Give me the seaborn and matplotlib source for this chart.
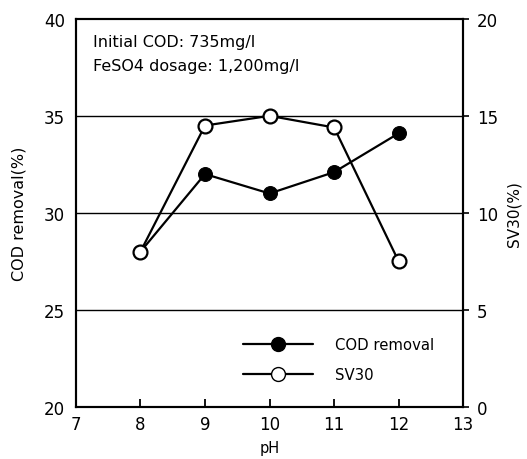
import matplotlib
matplotlib.use("Agg")
import matplotlib.pyplot as plt
from matplotlib.lines import Line2D
import seaborn as sns
import pandas as pd

# pH test points and measured results
ph = [8, 9, 10, 11, 12]
cod_removal = [28.0, 32.0, 31.0, 32.1, 34.1]   # %
sv30 = [8.0, 14.5, 15.0, 14.4, 7.5]             # %

x_ticks = [7, 8, 9, 10, 11, 12, 13]
left_ticks = [20, 25, 30, 35, 40]
right_ticks = [0, 5, 10, 15, 20]

sns.set_theme(style="white")
plt.rcParams["font.family"] = ["DejaVu Sans"]
plt.rcParams["text.color"] = "black"
plt.rcParams["axes.labelcolor"] = "black"
plt.rcParams["xtick.color"] = "black"
plt.rcParams["ytick.color"] = "black"

df = pd.DataFrame({"pH": ph, "COD removal": cod_removal, "SV30": sv30})

fig = plt.figure(figsize=(5.27, 4.6), dpi=100)
ax = fig.add_axes([0.144, 0.113, 0.735, 0.844])
ax2 = ax.twinx()

# horizontal reference lines at the inner ticks
for v in [25, 30, 35]:
    ax.axhline(v, color="black", lw=1.0, zorder=1)

sns.lineplot(data=df, x="pH", y="COD removal", ax=ax, color="black", lw=1.6,
             marker="o", markersize=10, markerfacecolor="black",
             markeredgecolor="black", zorder=3)
sns.lineplot(data=df, x="pH", y="SV30", ax=ax2, color="black", lw=1.6,
             marker="o", markersize=10, markerfacecolor="white",
             markeredgecolor="black", markeredgewidth=1.6, zorder=4)

ax.set_xlim(7, 13)
ax.set_ylim(20, 40)
ax2.set_ylim(0, 20)
ax.set_xticks(x_ticks)
ax.set_yticks(left_ticks)
ax2.set_yticks(right_ticks)

ax.set_xlabel("pH", fontsize=10.5, labelpad=5)
ax.set_ylabel("COD removal(%)", fontsize=11.5, labelpad=12)
ax2.set_ylabel("SV30(%)", fontsize=11, labelpad=6)

ax.tick_params(axis="x", direction="in", length=6, width=1.3, labelsize=12,
               pad=6, bottom=True)
ax.tick_params(axis="y", length=0, labelsize=12, pad=8, left=False)
ax2.tick_params(axis="y", direction="out", length=4, width=1.2, labelsize=12,
                pad=6, right=True)

for a in (ax, ax2):
    for s in a.spines.values():
        s.set_color("black")
        s.set_linewidth(1.5)
    a.grid(False)

ax.text(0.045, 0.96, "Initial COD: 735mg/l", transform=ax.transAxes,
        fontsize=11.5, va="top", ha="left")
ax.text(0.045, 0.898, "FeSO4 dosage: 1,200mg/l", transform=ax.transAxes,
        fontsize=11.5, va="top", ha="left")

handles = [
    Line2D([], [], color="black", lw=1.6, marker="o", markersize=10,
           markerfacecolor="black", markeredgecolor="black"),
    Line2D([], [], color="black", lw=1.6, marker="o", markersize=10,
           markerfacecolor="white", markeredgecolor="black"),
]
ax2.legend(handles, ["COD removal", "SV30"], loc="lower right",
           bbox_to_anchor=(0.96, 0.03), frameon=False, fontsize=10.7,
           handlelength=4.7, handletextpad=1.5, labelspacing=1.0)

fig.savefig("out.png", dpi=100)
